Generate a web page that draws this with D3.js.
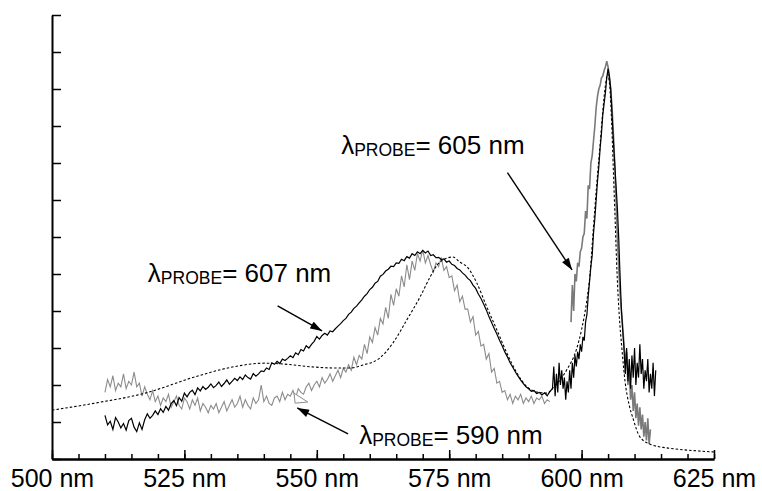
<!DOCTYPE html>
<html>
<head>
<meta charset="utf-8">
<script src="https://cdn.jsdelivr.net/npm/d3@7/dist/d3.min.js"></script>
<style>
  html, body { margin: 0; padding: 0; background: #fff; }
  svg { display: block; }
  text { font-family: "Liberation Sans", Arial, sans-serif; fill: #000; }
</style>
</head>
<body>
<svg id="chart" width="762" height="491"></svg>
<script>
// ---------------- DATA ----------------
const xTickValues = [500, 525, 550, 575, 600, 625];
const xTickLabels = ["500 nm", "525 nm", "550 nm", "575 nm", "600 nm", "625 nm"];
const xMinorTicks = d3.range(500, 626, 5);
const yTickValues = [0,1,2,3,4,5,6,7,8,9,10,11,12];

// probe 607 nm (black), part A: 510 -> 594 nm, step 0.5 nm
const black607AStart = 510, black607AStep = 0.5;
const black607A = [
  1.18,0.92,1.02,0.80,1.12,1.00,0.84,0.96,0.78,1.04,
  1.10,0.86,0.74,0.98,0.80,1.06,1.22,1.10,1.18,1.30,
  1.20,1.36,1.26,1.42,1.32,1.50,1.58,1.44,1.66,1.56,
  1.78,1.68,1.80,1.86,1.74,1.92,1.84,1.96,1.88,1.94,
  2.03,1.93,1.99,2.08,1.96,2.04,2.14,2.02,2.10,2.18,
  2.12,2.22,2.15,2.27,2.20,2.16,2.31,2.24,2.30,2.38,
  2.36,2.46,2.42,2.60,2.56,2.64,2.58,2.70,2.66,2.72,
  2.79,2.74,2.87,2.82,2.96,2.92,3.06,3.00,3.10,3.18,
  3.31,3.24,3.34,3.40,3.35,3.46,3.44,3.52,3.59,3.66,
  3.74,3.80,3.91,3.97,4.07,4.13,4.22,4.30,4.40,4.47,
  4.58,4.64,4.75,4.80,4.94,4.99,5.08,5.13,5.21,5.20,
  5.30,5.29,5.40,5.36,5.47,5.43,5.55,5.50,5.60,5.55,
  5.64,5.57,5.62,5.50,5.52,5.44,5.45,5.39,5.41,5.32,
  5.35,5.26,5.23,5.15,5.11,5.03,4.97,4.88,4.82,4.70,
  4.61,4.46,4.34,4.19,4.03,3.85,3.69,3.53,3.38,3.21,
  3.06,2.89,2.76,2.60,2.48,2.35,2.24,2.13,2.04,1.95,
  1.90,1.83,1.85,1.77,1.80,1.73,1.79,1.71,1.82
];
// probe 607 nm (black), part B: 594.5 -> 614 nm, step 0.25 nm
const black607BStart = 594.5, black607BStep = 0.25;
const black607B = [
  1.9,2.5,
  1.7,2.3,1.8,2.6,
  2.0,2.4,1.9,2.2,
  1.6,2.1,1.8,2.4,
  1.9,2.6,2.2,2.8,
  2.5,2.9,2.7,3.1,
  2.9,3.3,3.2,3.7,
  3.9,4.4,4.8,5.2,
  5.5,6.1,6.5,7.0,
  7.5,7.9,8.4,8.8,
  9.3,9.6,9.9,10.3,
  10.55,10.35,10.0,9.3,
  8.6,8.0,7.4,6.8,
  6.0,5.0,4.1,3.5,
  3.0,2.3,3.0,2.1,
  2.7,1.9,2.8,2.2,
  3.0,2.0,2.6,2.2,
  3.1,2.3,2.7,1.9,
  2.4,2.1,2.7,1.8,
  2.3,1.9,2.6,1.7,
  2.4
];
// probe 590 nm (grey): 510 -> 594 nm, step 0.5 nm
const grey590Start = 510, grey590Step = 0.5;
const grey590 = [
  1.80,2.15,1.95,2.25,1.85,2.05,1.95,2.30,1.90,2.10,
  2.00,2.35,1.95,2.05,1.70,1.95,1.75,1.60,1.85,1.55,
  1.70,1.45,1.65,1.55,1.75,1.40,1.55,1.70,1.45,1.35,
  1.65,1.55,1.35,1.60,1.45,1.65,1.30,1.50,1.40,1.25,
  1.45,1.35,1.50,1.25,1.40,1.55,1.30,1.45,1.60,1.40,
  1.50,1.70,1.40,1.60,1.45,1.35,1.65,1.50,1.60,2.00,
  1.55,1.70,1.50,1.45,1.65,1.70,1.55,1.80,1.60,1.75,
  1.70,1.85,1.65,1.90,1.80,1.75,1.95,2.05,1.85,2.00,
  2.10,1.95,2.20,2.05,2.15,2.30,2.10,2.25,2.40,2.20,
  2.45,2.35,2.55,2.40,2.75,2.55,2.80,2.70,3.10,2.85,
  3.30,3.15,3.55,3.35,3.80,3.65,4.10,3.80,4.45,4.15,
  4.60,4.40,4.95,4.65,5.25,4.85,5.35,5.10,5.55,5.35,
  5.65,5.30,5.50,5.25,5.05,5.30,5.20,5.45,5.10,5.20,
  4.90,4.95,4.55,4.70,4.25,4.40,4.05,4.05,3.70,3.85,
  3.35,3.45,3.05,3.10,2.70,2.85,2.35,2.45,2.05,2.10,
  1.80,1.85,1.60,1.75,1.50,1.70,1.60,1.75,1.50,1.65,
  1.55,1.70,1.50,1.65,1.60,1.70,1.50,1.60,1.55
];
// probe 605 nm (grey): 598 -> 613 nm, step 0.25 nm
const grey605Start = 598, grey605Step = 0.25;
const grey605 = [
  3.7,4.7,4.0,5.0,
  4.8,5.3,5.2,5.6,
  5.7,6.0,6.1,6.7,
  6.5,7.4,7.3,8.0,
  8.2,8.6,9.0,9.5,
  9.8,10.0,10.1,10.3,
  10.35,10.5,10.6,10.75,
  10.6,10.3,10.0,9.5,
  8.8,8.0,7.0,6.0,
  5.2,4.5,4.0,3.6,
  3.1,2.6,2.9,2.0,
  2.4,1.6,2.0,1.3,
  1.8,1.1,1.5,0.9,
  1.4,0.8,1.2,0.6,
  1.0,0.5,1.1,0.4,
  0.8
];
// fitted (dotted) curve
const fitNm  = [500,508.1,517.6,527,533.2,540.2,543.4,549.1,553.4,556.3,558.7,561.9,564.4,567,569.5,571.4,572.7,574.6,575.7,577,578.4,580.2,582.1,584,585.9,587.8,589.7,591.6,593.5,594.6,597.2,599,600,601,601.6,602.2,602.9,603.5,604,604.5,604.9,605.3,605.7,606,606.3,606.7,607.1,607.6,608.2,609,609.7,611,613.3,616.1,620,625];
const fitVal = [1.32,1.51,1.78,2.22,2.46,2.59,2.57,2.49,2.46,2.46,2.54,2.73,3.14,3.76,4.38,4.92,5.24,5.43,5.46,5.32,5.19,4.76,4.11,3.49,2.86,2.32,1.95,1.81,1.78,1.92,2.41,2.95,3.5,4.3,5.0,6.2,7.5,8.5,9.4,10.1,10.4,10.1,9.0,7.8,6.6,5.0,3.9,3.0,2.1,1.45,1.1,0.6,0.38,0.3,0.24,0.19];

// annotations (data coordinates)
const labelTexts = ["= 607 nm", "= 605 nm", "= 590 nm"];
const labelNm  = [518.1, 554.6, 558.0];
const labelVal = [4.78, 8.24, 0.40];
const arrowFromNm  = [542.6, 586.0, 555.9];
const arrowFromVal = [4.14, 7.74, 0.68];
const arrowToNm    = [551.0, 598.2, 546.3];
const arrowToVal   = [3.46, 5.11, 1.38];
const triNm  = [545.7, 548.3, 545.9];
const triVal = [1.78, 1.54, 1.51];

// ---------------- CHART ----------------
const svg = d3.select("#chart");
const x = d3.scaleLinear().domain([500, 625]).range([52, 714]);
const y = d3.scaleLinear().domain([0, 12]).range([459, 15]);

function series(start, step, vals) {
  return vals.map((v, i) => [start + i * step, v]);
}
const line = d3.line().x(d => x(d[0])).y(d => y(d[1]));
const smooth = d3.line().x(d => x(d[0])).y(d => y(d[1])).curve(d3.curveMonotoneX);

// grey curves
svg.append("path").datum(series(grey590Start, grey590Step, grey590))
  .attr("d", line).attr("fill", "none").attr("stroke", "#8c8c8c").attr("stroke-width", 1.1);
svg.append("path").datum(series(grey605Start, grey605Step, grey605))
  .attr("d", line).attr("fill", "none").attr("stroke", "#7a7a7a").attr("stroke-width", 1.6);

// black curve
const blackPts = series(black607AStart, black607AStep, black607A)
  .concat(series(black607BStart, black607BStep, black607B));
svg.append("path").datum(blackPts)
  .attr("d", line).attr("fill", "none").attr("stroke", "#000").attr("stroke-width", 1.2);

// dotted fit
svg.append("path").datum(fitNm.map((n, i) => [n, fitVal[i]]))
  .attr("d", smooth).attr("fill", "none").attr("stroke", "#000")
  .attr("stroke-width", 1.1).attr("stroke-dasharray", "2.5,2");

// axes
const gx = svg.append("g").attr("transform", `translate(0,${y(0)})`);
gx.call(d3.axisBottom(x).tickValues(xMinorTicks).tickSize(-5).tickSizeOuter(0).tickFormat(""));
const gx2 = svg.append("g").attr("transform", `translate(0,${y(0)})`);
gx2.call(d3.axisBottom(x).tickValues(xTickValues).tickSize(-9).tickSizeOuter(0)
  .tickPadding(10).tickFormat((d, i) => xTickLabels[i]));
gx2.selectAll("text").style("font-size", "25px").style("font-family", "'Liberation Sans', Arial, sans-serif");
const gy = svg.append("g").attr("transform", `translate(${x(500)},0)`);
gy.call(d3.axisLeft(y).tickValues(yTickValues).tickSize(-9).tickSizeOuter(0).tickFormat(""));
svg.selectAll(".domain").attr("stroke", "#000").attr("stroke-width", 2);
svg.selectAll(".tick line").attr("stroke", "#000").attr("stroke-width", 1.5);

// arrow marker
svg.append("defs").append("marker")
  .attr("id", "ah").attr("markerUnits", "userSpaceOnUse")
  .attr("viewBox", "0 0 12 8").attr("refX", 12).attr("refY", 4)
  .attr("markerWidth", 13).attr("markerHeight", 8).attr("orient", "auto")
  .append("path").attr("d", "M0,0 L12,4 L0,8 Z").attr("fill", "#000");

arrowFromNm.forEach((n, i) => {
  svg.append("line")
    .attr("x1", x(n)).attr("y1", y(arrowFromVal[i]))
    .attr("x2", x(arrowToNm[i])).attr("y2", y(arrowToVal[i]))
    .attr("stroke", "#000").attr("stroke-width", 1.4).attr("marker-end", "url(#ah)");
});

// small open triangle
svg.append("path")
  .attr("d", "M" + triNm.map((n, i) => x(n) + "," + y(triVal[i])).join("L") + "Z")
  .attr("fill", "#fff").attr("stroke", "#8c8c8c").attr("stroke-width", 1);

// labels
labelTexts.forEach((t, i) => {
  const tx = svg.append("text").attr("x", x(labelNm[i])).attr("y", y(labelVal[i]))
    .style("font-size", "26px");
  tx.append("tspan").text("λ");
  tx.append("tspan").style("font-size", "17.5px").attr("dy", 2).text("PROBE");
  tx.append("tspan").attr("dy", -2).text(t);
});
</script>
</body>
</html>
